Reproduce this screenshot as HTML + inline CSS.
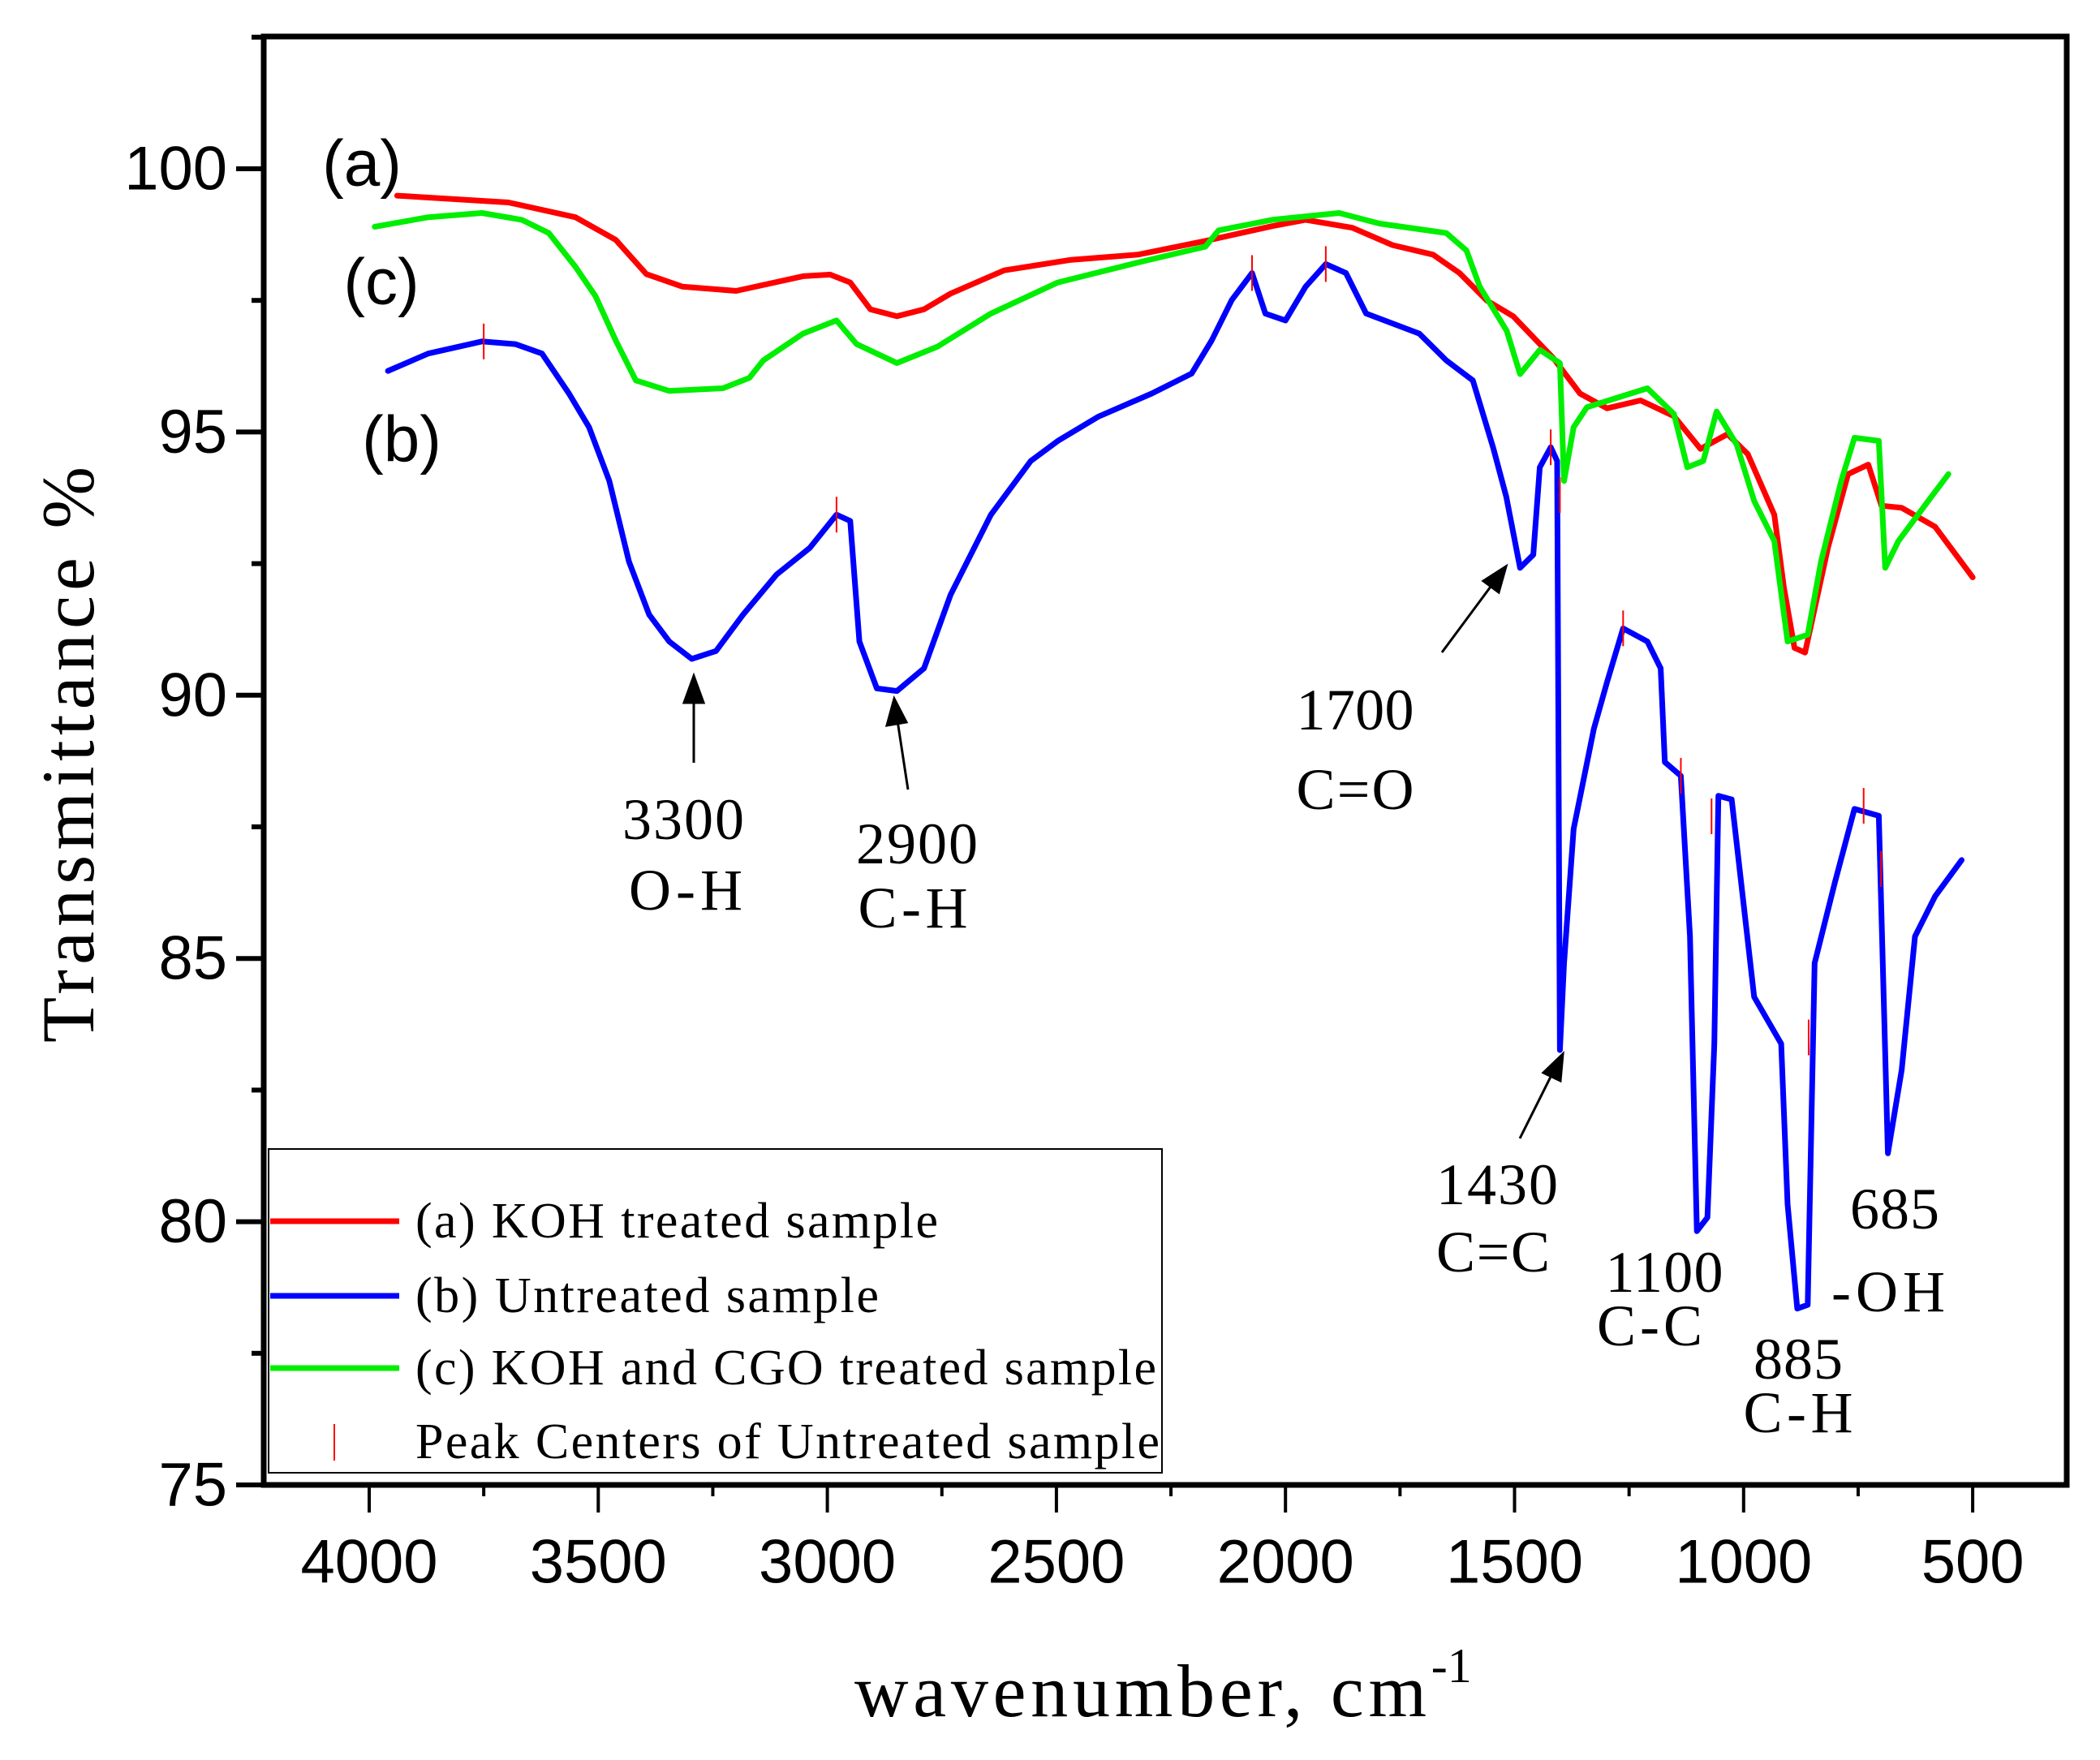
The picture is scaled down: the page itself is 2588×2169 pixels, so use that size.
<!DOCTYPE html>
<html><head><meta charset="utf-8"><style>
html,body{margin:0;padding:0;background:#fff}
svg{display:block}
.tk{font-family:"Liberation Sans",sans-serif;font-size:76px;fill:#000}
.sr{font-family:"Liberation Serif",serif;fill:#000}
</style></head><body>
<svg id="chart" width="2588" height="2169" viewBox="0 0 2588 2169" xmlns="http://www.w3.org/2000/svg">
<rect x="0" y="0" width="2588" height="2169" fill="#fff"/>
<g id="series"></g>
<g id="axes"></g>
<g id="annot">
<text class="tk" x="446" y="201" text-anchor="middle" dominant-baseline="central" style="font-size:80px">(a)</text>
<text class="tk" x="470" y="347" text-anchor="middle" dominant-baseline="central" style="font-size:80px">(c)</text>
<text class="tk" x="495" y="541" text-anchor="middle" dominant-baseline="central" style="font-size:80px">(b)</text>
<g class="sr" font-size="72" text-anchor="middle" dominant-baseline="central">
<text x="842" y="1010" textLength="150">3300</text>
<text x="845" y="1097" textLength="140">O-H</text>
<text x="1130" y="1040" textLength="150">2900</text>
<text x="1125" y="1119" textLength="135">C-H</text>
<text x="1670" y="875" textLength="145">1700</text>
<text x="1670" y="973" textLength="145">C=O</text>
<text x="1845" y="1460" textLength="150">1430</text>
<text x="1840" y="1543" textLength="140">C=C</text>
<text x="2051" y="1568" textLength="145">1100</text>
<text x="2033" y="1634" textLength="130">C-C</text>
<text x="2216" y="1675" textLength="110">885</text>
<text x="2216" y="1741" textLength="135">C-H</text>
<text x="2335" y="1490" textLength="110">685</text>
<text x="2327" y="1592" textLength="140">-OH</text>
</g>
<g stroke="#000" stroke-width="3" fill="#000">
<line x1="855" y1="940" x2="855" y2="860"/>
<polygon points="855,833 843,866 867,866"/>
<line x1="1119" y1="973" x2="1106" y2="888"/>
<polygon points="1102,861 1093,894 1117,890"/>
<line x1="1777" y1="804" x2="1840" y2="719"/>
<polygon points="1856,698 1828,716 1847,730"/>
<line x1="1873" y1="1403" x2="1913" y2="1323"/>
<polygon points="1926,1299 1902,1322 1923,1332"/>
</g>
</g>
<g id="legend">
<rect x="331" y="1416" width="1101" height="399" fill="#fff" stroke="#000" stroke-width="2"/>
<line x1="333" y1="1505" x2="492" y2="1505" stroke="#ff0000" stroke-width="7"/>
<line x1="333" y1="1597" x2="492" y2="1597" stroke="#0000ff" stroke-width="7"/>
<line x1="333" y1="1686" x2="492" y2="1686" stroke="#00ee00" stroke-width="7"/>
<line x1="412" y1="1755" x2="412" y2="1800" stroke="#ff0000" stroke-width="2"/>
<g class="sr" font-size="62" dominant-baseline="central">
<text x="512" y="1505" textLength="644">(a) KOH treated sample</text>
<text x="512" y="1597" textLength="571">(b) Untreated sample</text>
<text x="512" y="1686" textLength="913">(c) KOH and CGO treated sample</text>
<text x="512" y="1777" textLength="917">Peak Centers of Untreated sample</text>
</g>
</g>
<text class="sr" font-size="92" text-anchor="middle" dominant-baseline="central" transform="translate(84,930) rotate(-90)" textLength="710">Transmittance %</text>
<text class="sr" font-size="92" x="1053" y="2115"><tspan textLength="705">wavenumber, cm</tspan><tspan font-size="60" dy="-42">-1</tspan></text>
</svg>
<script>
const wnA=[3939,3696,3550,3462,3395,3316,3199,3053,2994,2950,2906,2848,2789,2731,2614,2468,2322,2175,2029,1956,1854,1766,1678,1620,1561,1503,1415,1357,1298,1225,1152,1094,1035,991,933,912,889,866,816,772,728,699,655,582,500];
const tA=[99.49,99.36,99.08,98.65,98.0,97.76,97.68,97.96,97.99,97.84,97.33,97.2,97.33,97.63,98.07,98.27,98.37,98.63,98.91,99.03,98.88,98.55,98.37,98.02,97.5,97.2,96.4,95.73,95.45,95.6,95.3,94.68,94.96,94.58,93.43,92.04,90.9,90.81,92.8,94.2,94.38,93.6,93.56,93.2,92.24];
const wnC=[3988,3871,3754,3667,3608,3550,3506,3462,3418,3345,3228,3170,3140,3053,2980,2936,2848,2760,2643,2497,2322,2175,2146,2029,1883,1795,1649,1605,1576,1517,1488,1445,1401,1392,1371,1342,1210,1152,1123,1088,1059,1015,977,933,904,860,831,787,758,705,691,662,597,553];
const tC=[98.9,99.08,99.16,99.03,98.78,98.14,97.58,96.74,95.98,95.78,95.83,96.03,96.36,96.87,97.12,96.67,96.31,96.62,97.25,97.84,98.22,98.52,98.83,99.03,99.16,98.96,98.78,98.45,97.76,96.92,96.1,96.56,96.31,94.07,95.09,95.47,95.83,95.34,94.33,94.45,95.39,94.76,93.69,92.93,91.02,91.15,92.54,94.07,94.89,94.83,92.42,92.93,93.69,94.2];
const wnB=[3959,3871,3754,3681,3623,3564,3520,3476,3433,3389,3345,3296,3243,3184,3111,3038,2980,2950,2930,2892,2848,2789,2731,2643,2556,2497,2409,2292,2205,2161,2117,2073,2044,2000,1956,1912,1868,1824,1708,1649,1591,1547,1518,1488,1459,1445,1421,1407,1401,1392,1371,1327,1298,1263,1210,1181,1172,1137,1117,1102,1079,1064,1055,1026,977,918,904,883,860,845,801,758,705,685,655,626,582,524];
const tB=[96.16,96.49,96.72,96.67,96.49,95.73,95.09,94.07,92.54,91.53,91.02,90.69,90.84,91.53,92.29,92.8,93.43,93.31,91.02,90.13,90.08,90.51,91.91,93.43,94.45,94.83,95.29,95.73,96.11,96.74,97.51,98.02,97.25,97.12,97.76,98.19,98.02,97.25,96.87,96.36,95.98,94.71,93.77,92.42,92.67,94.33,94.71,94.45,83.26,84.91,87.46,89.36,90.25,91.27,91.02,90.51,88.73,88.47,85.42,79.82,80.08,83.38,88.09,88.02,84.27,83.38,80.33,78.35,78.42,84.91,86.44,87.84,87.71,81.3,82.88,85.42,86.18,86.87];
const peakWn=[3750,2980,2073,1912,1421,1401,1263,1137,1070,858,738,700];
const peakT=[96.72,93.43,98.02,98.19,94.71,93.8,91.27,88.47,87.7,83.5,87.9,86.7];
const xTicks=[4000,3500,3000,2500,2000,1500,1000,500];
const yTicks=[75,80,85,90,95,100];

const NS="http://www.w3.org/2000/svg";
const X=w=>455+(4000-w)*0.5646;
const Y=t=>208+(100-t)*64.88;
const L=325,R=2547,T=45,B=1830;
const sg=document.getElementById('series');
function mk(tag,attrs,parent){const e=document.createElementNS(NS,tag);for(const k in attrs)e.setAttribute(k,attrs[k]);parent.appendChild(e);return e;}
function line(ws,ts,color,name){
  const d=ws.map((w,i)=>(i?'L':'M')+X(w).toFixed(1)+','+Y(ts[i]).toFixed(1)).join('');
  const p=mk('path',{d:d,fill:'none',stroke:color,'stroke-width':7,'stroke-linejoin':'round','stroke-linecap':'round'},sg);
  
  
}
line(wnA,tA,'#ff0000','series-a-koh');
line(wnC,tC,'#00ee00','series-c-koh-cgo');
line(wnB,tB,'#0000ff','series-b-untreated');
peakWn.forEach((w,i)=>{
  const m=mk('line',{x1:X(w),x2:X(w),y1:Y(peakT[i])-22,y2:Y(peakT[i])+22,stroke:'#ff0000','stroke-width':2},sg);
  
  
});
const ax=document.getElementById('axes');
const fr=mk('rect',{x:L,y:T,width:R-L,height:B-T,fill:'none',stroke:'#000','stroke-width':7},ax);


for(let v=75;v<=102.5;v+=2.5){
  const maj=(v%5===0);
  mk('line',{x1:L-(maj?34:15),x2:L,y1:Y(v),y2:Y(v),stroke:'#000','stroke-width':6},ax);
}
yTicks.forEach(v=>{
  const t=mk('text',{x:280,y:Y(v),'text-anchor':'end','dominant-baseline':'central',class:'tk'},ax);
  t.textContent=v;
  
  
});
for(let w=4000;w>=500;w-=250){
  const maj=(w%500===0);
  mk('line',{x1:X(w),x2:X(w),y1:B,y2:B+(maj?34:14),stroke:'#000','stroke-width':4},ax);
}
xTicks.forEach(v=>{
  const t=mk('text',{x:X(v),y:1925,'text-anchor':'middle','dominant-baseline':'central',class:'tk'},ax);
  t.textContent=v;
  
  
});
</script>
</body></html>
